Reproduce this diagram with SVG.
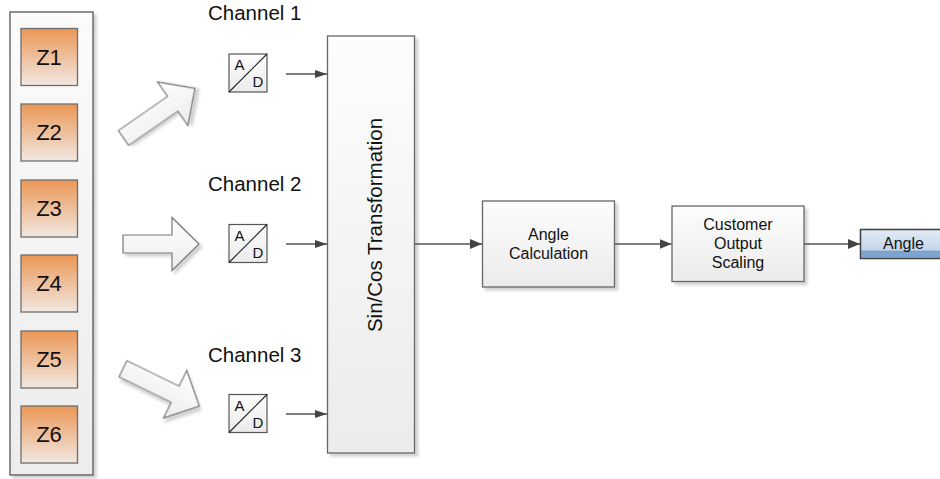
<svg xmlns="http://www.w3.org/2000/svg" width="940" height="479" viewBox="0 0 940 479">
<defs>
<linearGradient id="gPanel" x1="0" y1="0" x2="0" y2="1"><stop offset="0" stop-color="#fbfbfb"/><stop offset="1" stop-color="#ececec"/></linearGradient>
<linearGradient id="gZ" x1="0" y1="0" x2="0" y2="1"><stop offset="0" stop-color="#eb9755"/><stop offset="1" stop-color="#f1e8e2"/></linearGradient>
<linearGradient id="gBox" x1="0" y1="0" x2="0" y2="1"><stop offset="0" stop-color="#fdfdfd"/><stop offset="1" stop-color="#ebebeb"/></linearGradient>
<linearGradient id="gArrow" x1="0" y1="0" x2="0" y2="1"><stop offset="0" stop-color="#ffffff"/><stop offset="1" stop-color="#ececec"/></linearGradient>
<linearGradient id="gBlue" x1="0" y1="0" x2="0" y2="1"><stop offset="0" stop-color="#e3ecf7"/><stop offset="1" stop-color="#b7cce6"/></linearGradient>
<filter id="sh" x="-20%" y="-20%" width="150%" height="150%"><feDropShadow dx="3" dy="3" stdDeviation="1.5" flood-color="#000" flood-opacity="0.18"/></filter>
<marker id="ah" markerWidth="12" markerHeight="10" refX="12" refY="5" orient="auto" markerUnits="userSpaceOnUse"><path d="M0,0 L12,5 L0,10 Z" fill="#444"/></marker>
<marker id="ahs" markerWidth="12" markerHeight="8" refX="12" refY="4" orient="auto" markerUnits="userSpaceOnUse"><path d="M0,0 L12,4 L0,8 Z" fill="#444"/></marker>
</defs>
<style>
.t{font-family:"Liberation Sans",Arial,sans-serif;fill:#111}
.z{fill:url(#gZ);stroke:#6e6e6e;stroke-width:1.3}
.box{fill:url(#gBox);stroke:#666;stroke-width:1.3}
.ad{fill:url(#gBox);stroke:#555;stroke-width:1.2}
.big{fill:url(#gArrow);stroke:#777;stroke-width:1.2}
.ln{stroke:#555;stroke-width:1.3;fill:none}
</style>

<g id="panel">
<rect x="10" y="12" width="83" height="463" fill="url(#gPanel)" stroke="#555" stroke-width="1.3" filter="url(#sh)"/>
</g>
<g id="Z1"><rect class="z" x="21" y="28.5" width="56.5" height="57"/><text class="t" x="49" y="64.5" font-size="22" text-anchor="middle">Z1</text></g>
<g id="Z2"><rect class="z" x="21" y="104" width="56.5" height="57"/><text class="t" x="49" y="140" font-size="22" text-anchor="middle">Z2</text></g>
<g id="Z3"><rect class="z" x="21" y="180" width="56.5" height="57"/><text class="t" x="49" y="216" font-size="22" text-anchor="middle">Z3</text></g>
<g id="Z4"><rect class="z" x="21" y="255" width="56.5" height="57"/><text class="t" x="49" y="291" font-size="22" text-anchor="middle">Z4</text></g>
<g id="Z5"><rect class="z" x="21" y="331" width="56.5" height="57"/><text class="t" x="49" y="367" font-size="22" text-anchor="middle">Z5</text></g>
<g id="Z6"><rect class="z" x="21" y="406" width="56.5" height="57"/><text class="t" x="49" y="442" font-size="22" text-anchor="middle">Z6</text></g>

<g id="bigArrow1" transform="translate(123.5,138) rotate(-34.8)"><polygon class="big" filter="url(#sh)" points="0,-9 60,-9 60,-26.5 87,0 60,26.5 60,9 0,9"/></g>
<g id="bigArrow2" transform="translate(123,244)"><polygon class="big" filter="url(#sh)" points="0,-9 49,-9 49,-26.5 76,0 49,26.5 49,9 0,9"/></g>
<g id="bigArrow3" transform="translate(123,368.8) rotate(26)"><polygon class="big" filter="url(#sh)" points="0,-9 58,-9 58,-26.5 85,0 58,26.5 58,9 0,9"/></g>

<g id="channel1"><text class="t" x="208" y="20" font-size="20.5">Channel 1</text></g>
<g id="channel2"><text class="t" x="208" y="191" font-size="20.5">Channel 2</text></g>
<g id="channel3"><text class="t" x="208" y="361.5" font-size="20.5">Channel 3</text></g>

<g id="AD1"><rect class="ad" x="229" y="54" width="38" height="38"/><line x1="229" y1="92" x2="267" y2="54" stroke="#222" stroke-width="1.1"/><text class="t" x="234.5" y="70" font-size="15">A</text><text class="t" x="252.5" y="87" font-size="15">D</text></g>
<g id="AD2"><rect class="ad" x="229" y="224.5" width="38" height="38"/><line x1="229" y1="262.5" x2="267" y2="224.5" stroke="#222" stroke-width="1.1"/><text class="t" x="234.5" y="240.5" font-size="15">A</text><text class="t" x="252.5" y="257.5" font-size="15">D</text></g>
<g id="AD3"><rect class="ad" x="229" y="394.5" width="38" height="38"/><line x1="229" y1="432.5" x2="267" y2="394.5" stroke="#222" stroke-width="1.1"/><text class="t" x="234.5" y="410.5" font-size="15">A</text><text class="t" x="252.5" y="427.5" font-size="15">D</text></g>

<g id="sincos"><rect class="box" x="327.5" y="36" width="87" height="417" filter="url(#sh)"/><text class="t" transform="translate(381.5,225) rotate(-90)" font-size="20.5" text-anchor="middle">Sin/Cos Transformation</text></g>

<g id="anglecalc"><rect class="box" x="482.5" y="201" width="132" height="86" filter="url(#sh)"/><text class="t" x="548.5" y="240" font-size="16" text-anchor="middle">Angle</text><text class="t" x="548.5" y="258.5" font-size="16" text-anchor="middle">Calculation</text></g>

<g id="scaling"><rect class="box" x="672" y="206" width="132" height="75.5" filter="url(#sh)"/><text class="t" x="738" y="230" font-size="16" text-anchor="middle">Customer</text><text class="t" x="738" y="249" font-size="16" text-anchor="middle">Output</text><text class="t" x="738" y="267.5" font-size="16" text-anchor="middle">Scaling</text></g>

<g id="angleout"><rect x="860.5" y="229.5" width="90" height="29" fill="url(#gBlue)" stroke="#444" stroke-width="1.3"/><rect x="861" y="251" width="90" height="7" fill="#7ea5d0"/><line x1="860.5" y1="251" x2="945" y2="251" stroke="#6d93bf" stroke-width="0.6"/><rect x="860.5" y="229.5" width="90" height="29" fill="none" stroke="#444" stroke-width="1.3"/><text class="t" x="903.5" y="248.5" font-size="16" text-anchor="middle">Angle</text></g>

<g id="connectors">
<line class="ln" x1="286" y1="74" x2="327" y2="74" marker-end="url(#ahs)"/>
<line class="ln" x1="286" y1="244" x2="327" y2="244" marker-end="url(#ahs)"/>
<line class="ln" x1="286" y1="414" x2="327" y2="414" marker-end="url(#ahs)"/>
<line class="ln" x1="414.5" y1="244" x2="482" y2="244" marker-end="url(#ah)"/>
<line class="ln" x1="614.5" y1="244" x2="671.5" y2="244" marker-end="url(#ah)"/>
<line class="ln" x1="804" y1="244" x2="860" y2="244" marker-end="url(#ah)"/>
</g>
</svg>
